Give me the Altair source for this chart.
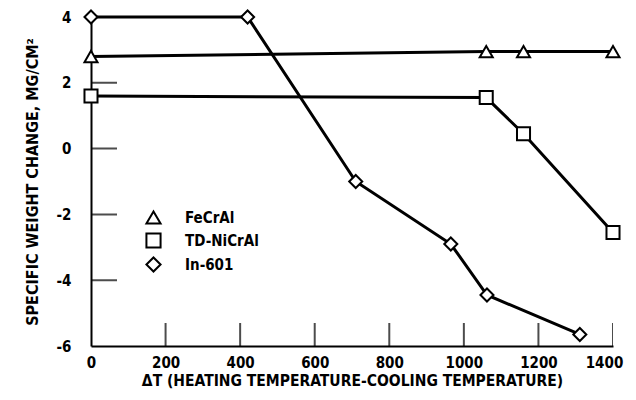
import altair as alt
import pandas as pd

series_names = ["FeCrAl", "TD-NiCrAl", "In-601"]
series_shapes = ["triangle-up", "square", "diamond"]

fecral_x = [0, 1060, 1160, 1400]
fecral_y = [2.8, 2.95, 2.95, 2.95]

nicral_x = [0, 1060, 1160, 1400]
nicral_y = [1.6, 1.55, 0.45, -2.55]

in601_x = [0, 420, 710, 965, 1062, 1311]
in601_y = [4.0, 4.0, -1.0, -2.9, -4.45, -5.65]

x_tick_values = [0, 200, 400, 600, 800, 1000, 1200, 1400]
x_inner_ticks = [200, 400, 600, 800, 1000, 1200, 1400]
y_tick_values = [-6, -4, -2, 0, 2, 4]
y_inner_ticks = [-4, -2, 0, 2]

FONT = "DejaVu Sans Condensed"

rows = []
for name, xs, ys in [("FeCrAl", fecral_x, fecral_y),
                     ("TD-NiCrAl", nicral_x, nicral_y),
                     ("In-601", in601_x, in601_y)]:
    for i, (xv, yv) in enumerate(zip(xs, ys)):
        rows.append({"series": name, "x": xv, "y": yv, "order": i})
df = pd.DataFrame(rows)

xscale = alt.Scale(domain=[0, 1400], nice=False, zero=False)
yscale = alt.Scale(domain=[-6, 4], nice=False, zero=False)

x_enc = alt.X("x:Q", scale=xscale, title="ΔT (HEATING TEMPERATURE-COOLING TEMPERATURE)",
              axis=alt.Axis(values=x_tick_values, labelExpr="toString(datum.value)",
                            grid=False, ticks=False, labelFlush=False,
                            labelOffset={"condition": {"test": "datum.value == 1400", "value": -9},
                                         "value": 0},
                            domainColor="black", domainWidth=2,
                            labelFont=FONT, labelFontWeight="bold", labelFontSize=15,
                            labelColor="black", labelPadding=9,
                            titleFont=FONT, titleFontWeight="bold", titleFontSize=15.5,
                            titleColor="black", titlePadding=3))
y_enc = alt.Y("y:Q", scale=yscale, title="SPECIFIC WEIGHT CHANGE, MG/CM²",
              axis=alt.Axis(values=y_tick_values, labelExpr="toString(datum.value)",
                            grid=False, ticks=False, labelFlush=False,
                            domainColor="black", domainWidth=2,
                            labelFont=FONT, labelFontWeight="bold", labelFontSize=15,
                            labelColor="black", labelPadding=20,
                            titleFont=FONT, titleFontWeight="bold", titleFontSize=16,
                            titleColor="black", titlePadding=16))

lines = alt.Chart(df).mark_line(color="black", strokeWidth=3).encode(
    x=x_enc, y=y_enc, detail="series:N", order="order:Q")

points = alt.Chart(df).mark_point(filled=False, strokeWidth=2, size=170,
                                  opacity=1).encode(
    x=alt.X("x:Q", scale=xscale),
    y=alt.Y("y:Q", scale=yscale),
    stroke=alt.value("black"),
    fill=alt.value("white"),
    shape=alt.Shape("series:N",
                    scale=alt.Scale(domain=series_names, range=series_shapes),
                    sort=series_names,
                    legend=alt.Legend(orient="none", legendX=54, legendY=192, title=None,
                                      labelFont=FONT, labelFontWeight="bold",
                                      labelFontSize=15, labelColor="black",
                                      symbolSize=200, symbolStrokeWidth=2,
                                      rowPadding=1, labelOffset=23)))

xt = alt.Chart(pd.DataFrame({"x": x_inner_ticks})).mark_tick(
    orient="vertical", size=46, thickness=2, color="black", clip=True).encode(
    x=alt.X("x:Q", scale=xscale), y=alt.datum(-6))

yt = alt.Chart(pd.DataFrame({"y": y_inner_ticks})).mark_tick(
    orient="horizontal", size=52, thickness=2, color="black", clip=True).encode(
    y=alt.Y("y:Q", scale=yscale), x=alt.datum(0))

chart = alt.layer(xt, yt, lines, points).properties(
    width=522, height=329,
    autosize=alt.AutoSizeParams(type="none"),
    padding={"left": 83, "top": 9, "right": 15, "bottom": 46},
    background="white",
).configure_view(stroke=None)

chart.save("out.html", embed_options={"renderer": "svg", "actions": False})
